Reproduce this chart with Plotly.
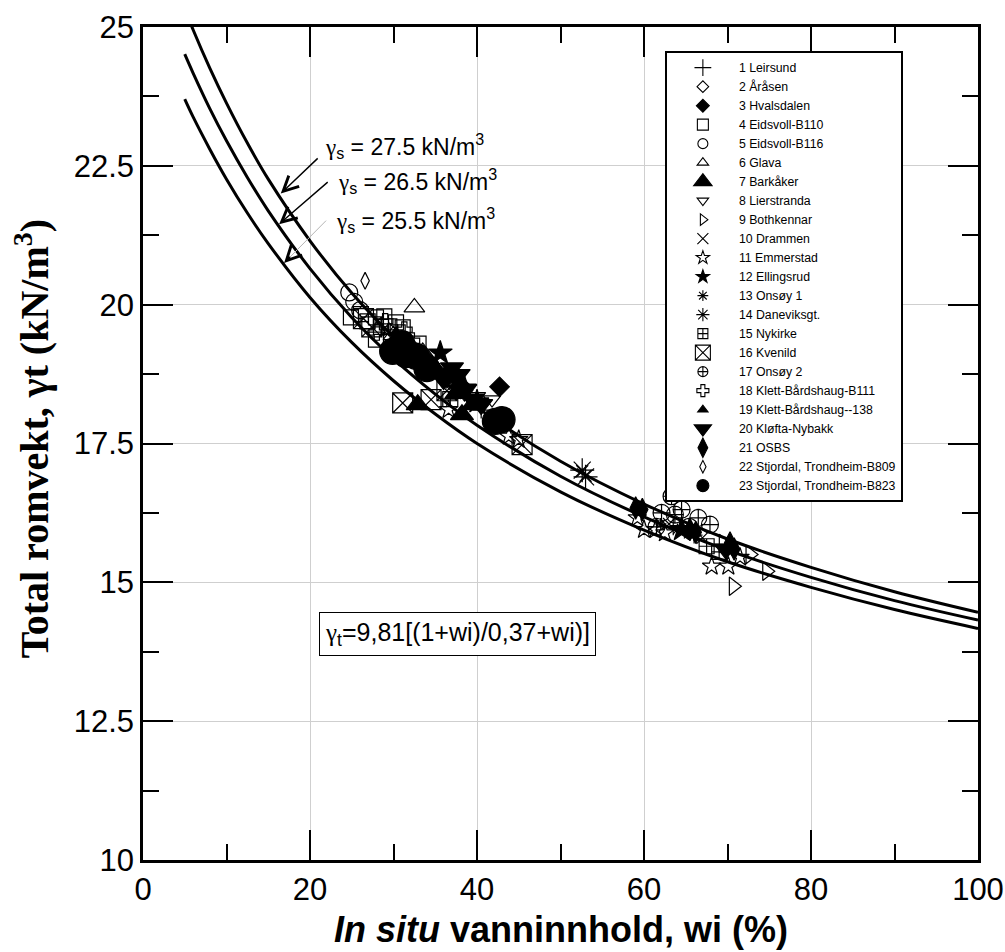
import plotly.graph_objects as go

# ---------------- data ----------------
# theoretical curves
w_curve = [5, 6, 8, 10, 12.5, 15, 20, 25, 30, 35, 40, 50, 60, 70, 80, 90, 100]
g_curve_275 = [25.33, 24.95, 24.26, 23.63, 22.91, 22.26, 21.15, 20.21, 19.42, 18.74, 18.15, 17.18, 16.41, 15.78, 15.27, 14.83, 14.46]
g_curve_265 = [24.51, 24.17, 23.53, 22.95, 22.29, 21.69, 20.65, 19.77, 19.03, 18.39, 17.83, 16.91, 16.18, 15.58, 15.09, 14.67, 14.32]
g_curve_255 = [23.70, 23.38, 22.80, 22.26, 21.65, 21.10, 20.13, 19.32, 18.63, 18.03, 17.50, 16.63, 15.94, 15.37, 14.91, 14.51, 14.17]
curve_labels = ["27.5", "26.5", "25.5"]

site_names = [
    "1 Leirsund", "2 Åråsen", "3 Hvalsdalen", "4 Eidsvoll-B110", "5 Eidsvoll-B116",
    "6 Glava", "7 Barkåker", "8 Lierstranda", "9 Bothkennar", "10 Drammen",
    "11 Emmerstad", "12 Ellingsrud", "13 Onsøy 1", "14 Daneviksgt.", "15 Nykirke",
    "16 Kvenild", "17 Onsøy 2", "18 Klett-Bårdshaug-B111", "19 Klett-Bårdshaug--138",
    "20 Kløfta-Nybakk", "21 OSBS", "22 Stjordal, Trondheim-B809", "23 Stjordal, Trondheim-B823",
]

w_leirsund = [30.5, 33.0, 35.5, 38.0, 40.5, 63.5, 66.0]
g_leirsund = [19.5, 19.15, 18.8, 18.45, 18.1, 16.0, 15.85]
w_arasen = [29.5, 32.0, 34.5, 37.0, 39.5]
g_arasen = [19.55, 19.3, 18.95, 18.55, 18.25]
w_hvalsdalen = [42.7, 36.5, 38.0, 34.0]
g_hvalsdalen = [18.52, 18.75, 18.55, 19.0]
w_eidsvoll110 = [24.9, 26.1, 26.9, 27.9, 28.9, 29.5, 30.3, 31.1, 27.9, 33.0]
g_eidsvoll110 = [19.77, 19.83, 19.70, 19.77, 19.79, 19.61, 19.68, 19.59, 19.37, 19.3]
w_eidsvoll116 = [24.7, 25.3, 26.0]
g_eidsvoll116 = [20.22, 20.05, 19.9]
w_glava = [32.5, 30.0, 33.5]
g_glava = [19.95, 19.45, 19.15]
w_barkaker = [32.9, 38.2, 35.1, 36.6, 34.0, 37.5, 39.5]
g_barkaker = [18.20, 18.02, 18.83, 18.71, 18.95, 18.4, 18.2]
w_lierstranda = [41.8, 40.0, 38.5, 35.5]
g_lierstranda = [18.29, 18.35, 18.4, 18.75]
w_bothkennar = [70.7, 74.7, 72.7, 69.5]
g_bothkennar = [14.93, 15.20, 15.50, 15.7]
w_drammen = [52.6, 53.0, 63.0, 65.5, 67.0, 37.0]
g_drammen = [17.0, 16.92, 16.05, 15.9, 15.8, 18.6]
w_emmerstad = [36.6, 43.8, 45.0, 59.2, 61.4, 68.1, 70.1, 62.5, 71.5, 33.5, 60.0]
g_emmerstad = [18.11, 17.63, 17.57, 16.16, 15.95, 15.29, 15.29, 15.89, 15.45, 18.85, 15.95]
w_ellingsrud = [35.6, 37.0, 38.5, 40.0, 64.5]
g_ellingsrud = [19.13, 18.7, 18.5, 18.25, 15.95]
w_onsoy1 = [31.0, 33.0, 62.0, 64.0, 66.0]
g_onsoy1 = [19.4, 19.2, 16.05, 15.95, 15.85]
w_daneviksgt = [52.6, 53.0]
g_daneviksgt = [17.02, 16.9]
w_nykirke = [28.5, 30.5, 67.5, 69.0, 36.8]
g_nykirke = [19.6, 19.5, 15.65, 15.55, 18.3]
w_kvenild = [31.1, 34.5, 45.4, 26.4, 27.4, 36.4]
g_kvenild = [18.23, 18.29, 17.48, 19.75, 19.6, 18.45]
w_onsoy2 = [63.3, 64.5, 66.5, 67.9, 62.1, 63.7, 65.4, 61.5]
g_onsoy2 = [16.55, 16.31, 16.16, 16.04, 16.25, 16.22, 16.0, 16.0]
w_klett111 = [29.0, 31.3, 32.2, 28.0]
g_klett111 = [19.7, 19.55, 19.35, 19.5]
w_klett138 = [31.5, 33.5, 35.5, 30.3]
g_klett138 = [19.3, 19.05, 18.8, 19.5]
w_klofta = [37.0, 37.8, 38.6, 36.0, 39.5, 40.5, 69.8]
g_klofta = [18.86, 18.74, 18.47, 18.65, 18.3, 18.2, 15.6]
w_osbs = [59.0, 59.8, 70.3, 70.8, 65.5, 66.2]
g_osbs = [16.34, 16.31, 15.71, 15.6, 15.95, 15.9]
w_stj809 = [26.6]
g_stj809 = [20.43]
w_stj823 = [29.9, 31.5, 32.7, 42.2, 43.0, 31.0, 34.0]
g_stj823 = [19.16, 19.1, 19.07, 17.90, 17.93, 19.3, 18.85]

site_w = [w_leirsund, w_arasen, w_hvalsdalen, w_eidsvoll110, w_eidsvoll116, w_glava,
          w_barkaker, w_lierstranda, w_bothkennar, w_drammen, w_emmerstad, w_ellingsrud,
          w_onsoy1, w_daneviksgt, w_nykirke, w_kvenild, w_onsoy2, w_klett111, w_klett138,
          w_klofta, w_osbs, w_stj809, w_stj823]
site_g = [g_leirsund, g_arasen, g_hvalsdalen, g_eidsvoll110, g_eidsvoll116, g_glava,
          g_barkaker, g_lierstranda, g_bothkennar, g_drammen, g_emmerstad, g_ellingsrud,
          g_onsoy1, g_daneviksgt, g_nykirke, g_kvenild, g_onsoy2, g_klett111, g_klett138,
          g_klofta, g_osbs, g_stj809, g_stj823]

x_tickvals = [0, 20, 40, 60, 80, 100]
x_ticktext = ["0", "20", "40", "60", "80", "100"]
y_tickvals = [10, 12.5, 15, 17.5, 20, 22.5, 25]
y_ticktext = ["10", "12.5", "15", "17.5", "20", "22.5", "25"]

# ---------------- styles ----------------
site_symbols = ["cross-thin", "diamond-open", "diamond", "square-open", "circle-open",
                "triangle-up-open", "triangle-up", "triangle-down-open", "triangle-right-open",
                "x-thin", "star-open", "star", "asterisk-open", "asterisk-open",
                "square-cross-open", "square-x-open", "circle-cross-open", "cross-open",
                "triangle-up", "triangle-down", "diamond-tall", "diamond-tall-open", "circle"]
site_sizes = [12, 10, 15, 15, 17, 18, 20, 15, 16, 12, 14, 18, 10, 20, 15, 20, 17, 13, 11, 20, 16, 12, 26]
legend_sizes = [12, 9, 10, 11, 10, 10, 16, 10, 10, 11, 10, 10, 9, 11, 10, 15, 10, 10, 9, 15, 14, 9, 12]

fig = go.Figure()

for g_vals in [g_curve_275, g_curve_265, g_curve_255]:
    fig.add_trace(go.Scatter(x=w_curve, y=g_vals, mode="lines",
                             line=dict(color="black", width=3, shape="spline", smoothing=1.0),
                             showlegend=False, hoverinfo="skip"))

for name, wv, gv, sym, sz in zip(site_names, site_w, site_g, site_symbols, site_sizes):
    fig.add_trace(go.Scatter(
        x=wv, y=gv, mode="markers", name=name, legendgroup=name, showlegend=False,
        marker=dict(symbol=sym, size=sz, color="black",
                    line=dict(color="black", width=1.2)),
    ))

# legend entries (same symbols at legend size)
for name, sym, lsz in zip(site_names, site_symbols, legend_sizes):
    fig.add_trace(go.Scatter(
        x=[None], y=[None], mode="markers", name=name, legendgroup=name, showlegend=True,
        marker=dict(symbol=sym, size=lsz, color="black",
                    line=dict(color="black", width=1.1)),
    ))

gam = "<span style='font-family:Liberation Serif'>γ</span>"

annotations = []
# arrows
heads = [(16.5, 22.0), (16.3, 21.45)]
tails = [(21.1, 22.66), (22.3, 22.23)]
for (hx, hy), (tx, ty) in zip(heads, tails):
    annotations.append(dict(x=hx, y=hy, ax=tx, ay=ty, xref="x", yref="y", axref="x", ayref="y",
                            text="", showarrow=True, arrowhead=5, arrowsize=2.1, arrowwidth=1.4,
                            arrowcolor="black"))
annotations.append(dict(x=16.9, y=20.75, ax=22.1, ay=21.54, xref="x", yref="y", axref="x", ayref="y",
                        text="", showarrow=True, arrowhead=0, arrowwidth=1, arrowcolor="#b5b5b5"))
annotations.append(dict(x=16.9, y=20.75, ax=17.8, ay=20.89, xref="x", yref="y", axref="x", ayref="y",
                        text="", showarrow=True, arrowhead=5, arrowsize=2.1, arrowwidth=1.4,
                        arrowcolor="black"))
# labels
label_pos = [(21.5, 22.85), (23.1, 22.22), (22.9, 21.52)]
for lab, (lx, ly) in zip(curve_labels, label_pos):
    annotations.append(dict(x=lx, y=ly, xref="x", yref="y", xanchor="left", yanchor="middle",
                            showarrow=False,
                            text=f"{gam}<sub>s</sub> = {lab} kN/m<sup>3</sup>",
                            font=dict(size=23, color="black", family="Liberation Sans")))
# formula box
annotations.append(dict(x=37.7, y=14.07, xref="x", yref="y", showarrow=False,
                        text=f"{gam}<sub>t</sub>=9,81[(1+wi)/0,37+wi)]",
                        font=dict(size=25, color="black", family="Liberation Sans"),
                        bordercolor="black", borderwidth=1, borderpad=5, bgcolor="white"))
# axis titles
annotations.append(dict(x=0.5, y=0, xref="paper", yref="paper", yshift=-69,
                        xanchor="center", yanchor="middle", showarrow=False,
                        text="<b><i>In situ</i> vanninnhold, wi (%)</b>",
                        font=dict(size=36, family="Liberation Sans", color="black")))
annotations.append(dict(x=0, y=0.505, xref="paper", yref="paper", xshift=-111,
                        xanchor="center", yanchor="middle", showarrow=False, textangle=-90,
                        text="<b>Total romvekt, γt (kN/m<sup>3</sup>)</b>",
                        font=dict(size=40, family="Liberation Serif", color="black")))

axis_common = dict(
    showline=True, linecolor="black", linewidth=2.5, mirror="allticks",
    ticks="inside", ticklen=30, tickwidth=2, tickcolor="black",
    showgrid=True, gridcolor="#cfcfcf", gridwidth=1, zeroline=False,
    tickfont=dict(size=31, color="black", family="Liberation Sans"),
    automargin=False,
)

fig.update_layout(
    width=1005, height=952,
    margin=dict(l=143, r=27, t=27, b=92),
    paper_bgcolor="white", plot_bgcolor="white",
    font=dict(family="Liberation Sans", color="black"),
    xaxis=dict(range=[0, 100], tickvals=x_tickvals, ticktext=x_ticktext,
               minor=dict(dtick=10, ticks="inside", ticklen=16, tickwidth=2, tickcolor="black", showgrid=False),
               **axis_common),
    yaxis=dict(range=[10, 25], tickvals=y_tickvals, ticktext=y_ticktext,
               minor=dict(dtick=1.25, ticks="inside", ticklen=16, tickwidth=2, tickcolor="black", showgrid=False),
               **axis_common),
    legend=dict(x=0.625, y=0.971, xanchor="left", yanchor="top",
                bgcolor="white", bordercolor="black", borderwidth=2,
                font=dict(size=12.3, family="Liberation Sans", color="black"),
                itemwidth=62, traceorder="normal", itemclick=False),
    annotations=annotations,
    showlegend=True,
)

fig.write_html("out.html", config={"displayModeBar": False},
               post_script="document.body.style.margin='0px';document.body.style.overflow='hidden';")
